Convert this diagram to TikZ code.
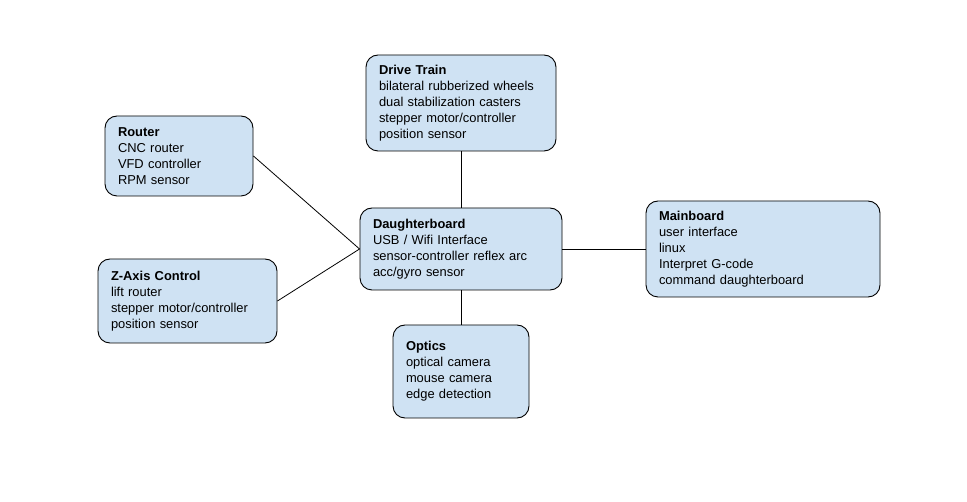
\documentclass[tikz,border=0pt]{standalone}
\usepackage{fontspec}
\setmainfont{Liberation Sans}
\usepackage{xcolor}
\usetikzlibrary{positioning}
\definecolor{boxblue}{RGB}{207,226,243}

\begin{document}
\begin{tikzpicture}[
    x=1pt, y=-1pt,
    box/.style={rectangle, rounded corners=12pt, draw=black, fill=boxblue, line width=0.9pt, inner xsep=13pt, inner ysep=0pt, align=left, font=\fontsize{12.9}{16}\selectfont},
    link/.style={draw=black, line width=0.8pt}
]
\fill[white] (0,0) rectangle (967,502);
\useasboundingbox (0,0) rectangle (967,502);

\node[box, text width=164pt, minimum height=96pt] (drive) at (461,103) {\textbf{Drive Train}\\bilateral rubberized wheels\\dual stabilization casters\\stepper motor/controller\\position sensor};
\node[box, text width=122pt, minimum height=80pt] (router) at (179,156) {\textbf{Router}\\CNC router\\VFD controller\\RPM sensor};
\node[box, text width=176pt, minimum height=82pt] (daughter) at (461,249) {\textbf{Daughterboard}\\USB / Wifi Interface\\sensor-controller reflex arc\\acc/gyro sensor};
\node[box, text width=153pt, minimum height=84pt] (zaxis) at (187.5,301) {\textbf{Z-Axis Control}\\lift router\\stepper motor/controller\\position sensor};
\node[box, text width=208pt, minimum height=96pt] (main) at (763,249) {\textbf{Mainboard}\\user interface\\linux\\Interpret G-code\\command daughterboard};
\node[box, text width=110pt, minimum height=93pt] (optics) at (461,371.5) {\textbf{Optics}\\optical camera\\mouse camera\\edge detection};

\draw[link] (drive.south) -- (daughter.north);
\draw[link] (daughter.south) -- (optics.north);
\draw[link] (daughter.east) -- (main.west);
\draw[link] (router.east) -- (daughter.west);
\draw[link] (zaxis.east) -- (daughter.west);

\end{tikzpicture}
\end{document}
